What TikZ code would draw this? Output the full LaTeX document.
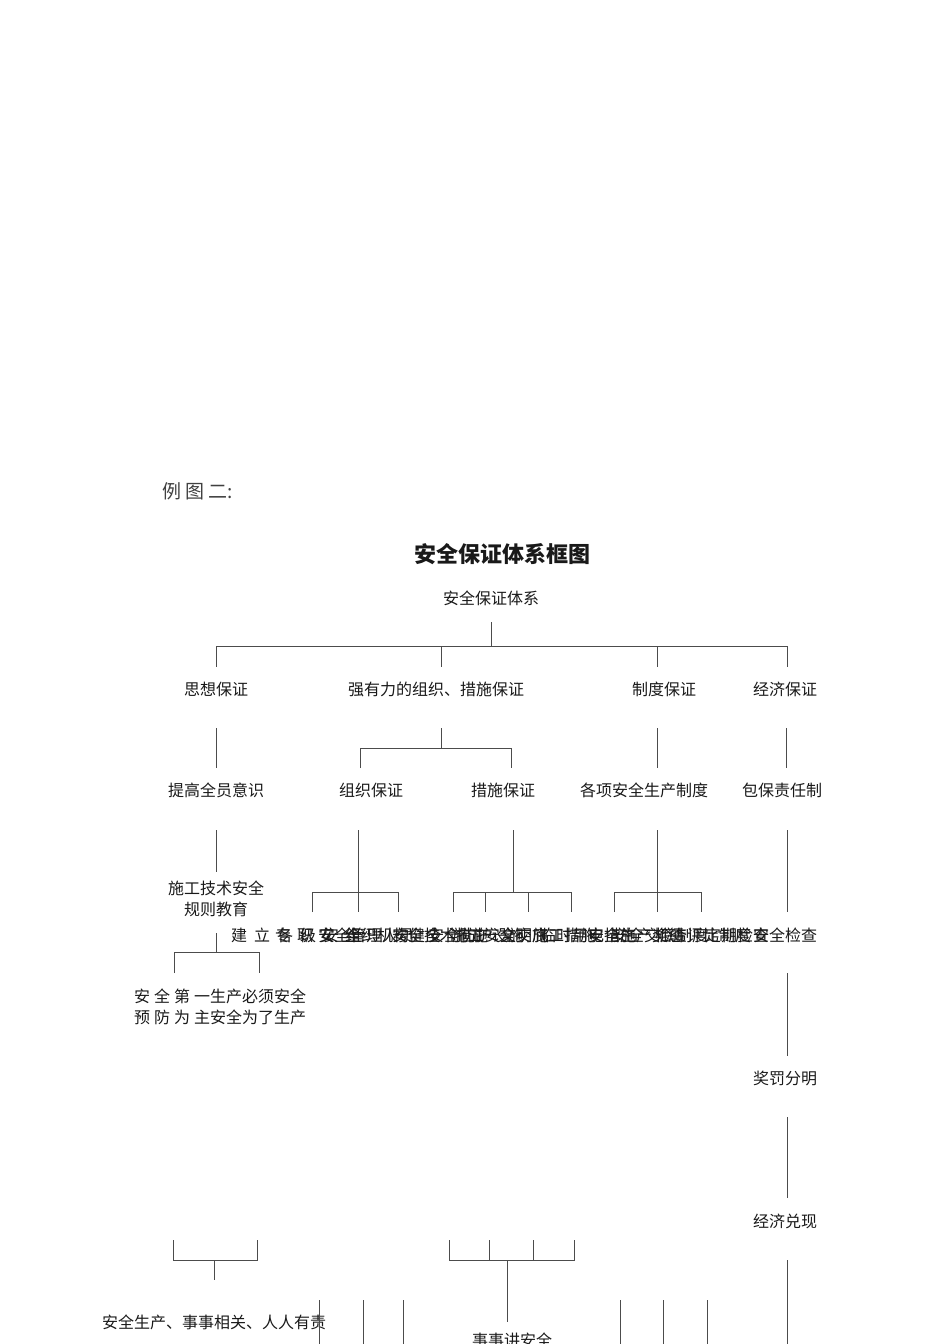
\documentclass[tikz,border=0pt]{standalone}
\usepackage{fontspec}
\setmainfont{Noto Sans CJK SC}
\tikzset{
  lbl/.style={inner sep=0pt, text=black!90, font=\fontsize{16}{21}\selectfont, align=center},
  tie/.style={draw=black!70, line width=0.8pt},
}
% row of items that lie over one another
\newcommand{\pileitem}[3]{%
  \node[lbl, anchor=west] (#1) at (#2,935) {#3};
}

\begin{document}
\begin{tikzpicture}[x=1pt,y=-1pt]
  \useasboundingbox (0,0) rectangle (950,1344);

  \node[lbl, anchor=west, text=black!75, font=\fontsize{19}{22}\selectfont]
    (lead) at (162,491) {例\hspace{4pt}图\hspace{4pt}二:};
  \node[lbl, font=\bfseries\fontsize{22}{26}\selectfont] (title) at (502,554) {安全保证体系框图};

  % top levels
  \node[lbl] (root) at (491,598) {安全保证体系};
  \node[lbl] (sixiang) at (216,689) {思想保证};
  \node[lbl] (qiang) at (436,689) {强有力的组织、措施保证};
  \node[lbl] (zhidu) at (664,689) {制度保证};
  \node[lbl] (jingji) at (785,689) {经济保证};

  \node[lbl] (tigao) at (216,790) {提高全员意识};
  \node[lbl] (zuzhi) at (371,790) {组织保证};
  \node[lbl] (cuoshi) at (503,790) {措施保证};
  \node[lbl] (gexiang) at (644,790) {各项安全生产制度};
  \node[lbl] (baobao) at (782,790) {包保责任制};

  \node[lbl] (shigong) at (216,899) {施工技术安全\\规则教育};

  \pileitem{p1}{231}{建\hspace{7pt}立\hspace{7pt}各\hspace{7pt}级\hspace{7pt}安\hspace{7pt}全}
  \pileitem{p2}{275}{专\hspace{6pt}职\hspace{6pt}安\hspace{6pt}全}
  \pileitem{p3}{318}{安全管理人员}
  \pileitem{p4}{345}{组织机构健全}
  \pileitem{p5}{392}{安全技术措施}
  \pileitem{p6}{428}{安全防护设施}
  \pileitem{p7}{452}{施工安全交底}
  \pileitem{p8}{500}{文明施工措施}
  \pileitem{p9}{540}{临时用电措施}
  \pileitem{p10}{588}{安全生产奖惩}
  \pileitem{p11}{612}{安全交底制度}
  \pileitem{p12}{655}{检查评比制度}
  \pileitem{p13}{705}{定期检查}
  \pileitem{p14}{753}{安全检查}

  \node[lbl, anchor=west] (motto1) at (134,996) {安\hspace{4pt}全\hspace{4pt}第\hspace{4pt}一};
  \node[lbl, anchor=west] (motto2) at (210,996) {生产必须安全};
  \node[lbl, anchor=west] (motto3) at (134,1017) {预\hspace{4pt}防\hspace{4pt}为\hspace{4pt}主};
  \node[lbl, anchor=west] (motto4) at (210,1017) {安全为了生产};

  \node[lbl] (jiangfa) at (785,1078) {奖罚分明};
  \node[lbl] (duixian) at (785,1221) {经济兑现};

  \node[lbl] (renren) at (214,1322) {安全生产、事事相关、人人有责};
  \node[lbl] (shishi) at (512,1340) {事事讲安全};

  % root bus
  \coordinate (bus) at (0,646);
  \draw[tie] ([yshift=-24pt]root.center) -- (root |- bus);
  \draw[tie] (216,646) -- (787,646);
  \foreach \x in {216,441,657,787}
    \draw[tie] (\x,646) -- (\x,667);

  % level 1 to level 2
  \draw[tie] (216,728) -- (216,768);
  \draw[tie] (441,728) -- (441,748);
  \draw[tie] (360,768) |- (511,748) -- (511,768);
  \draw[tie] (657,728) -- (657,768);
  \draw[tie] (786,728) -- (786,768);

  % level 2 to items
  \draw[tie] (216,830) -- (216,872);
  \draw[tie] (358,830) -- (358,912);
  \draw[tie] (312,912) |- (398,892) -- (398,912);
  \draw[tie] (513,830) -- (513,892);
  \draw[tie] (453,912) |- (571,892) -- (571,912);
  \foreach \x in {485,528}
    \draw[tie] (\x,892) -- (\x,912);
  \draw[tie] (657,830) -- (657,912);
  \draw[tie] (614,912) |- (701,892) -- (701,912);
  \draw[tie] (787,830) -- (787,912);

  % education branch
  \draw[tie] (216,933) -- (216,952);
  \draw[tie] (174,973) |- (259,952) -- (259,973);

  % economic chain
  \draw[tie] (787,973) -- (787,1056);
  \draw[tie] (787,1117) -- (787,1198);
  \draw[tie] (787,1260) -- (787,1344);

  % lower brackets
  \draw[tie] (173,1240) |- (257,1260) -- (257,1240);
  \draw[tie] (214,1260) -- (214,1280);
  \draw[tie] (449,1240) |- (574,1260) -- (574,1240);
  \foreach \x in {489,533}
    \draw[tie] (\x,1240) -- (\x,1260);
  \draw[tie] (507,1260) -- (507,1322);
  \foreach \x in {319,363,403,620,663,707}
    \draw[tie] (\x,1300) -- (\x,1344);
\end{tikzpicture}
\end{document}
